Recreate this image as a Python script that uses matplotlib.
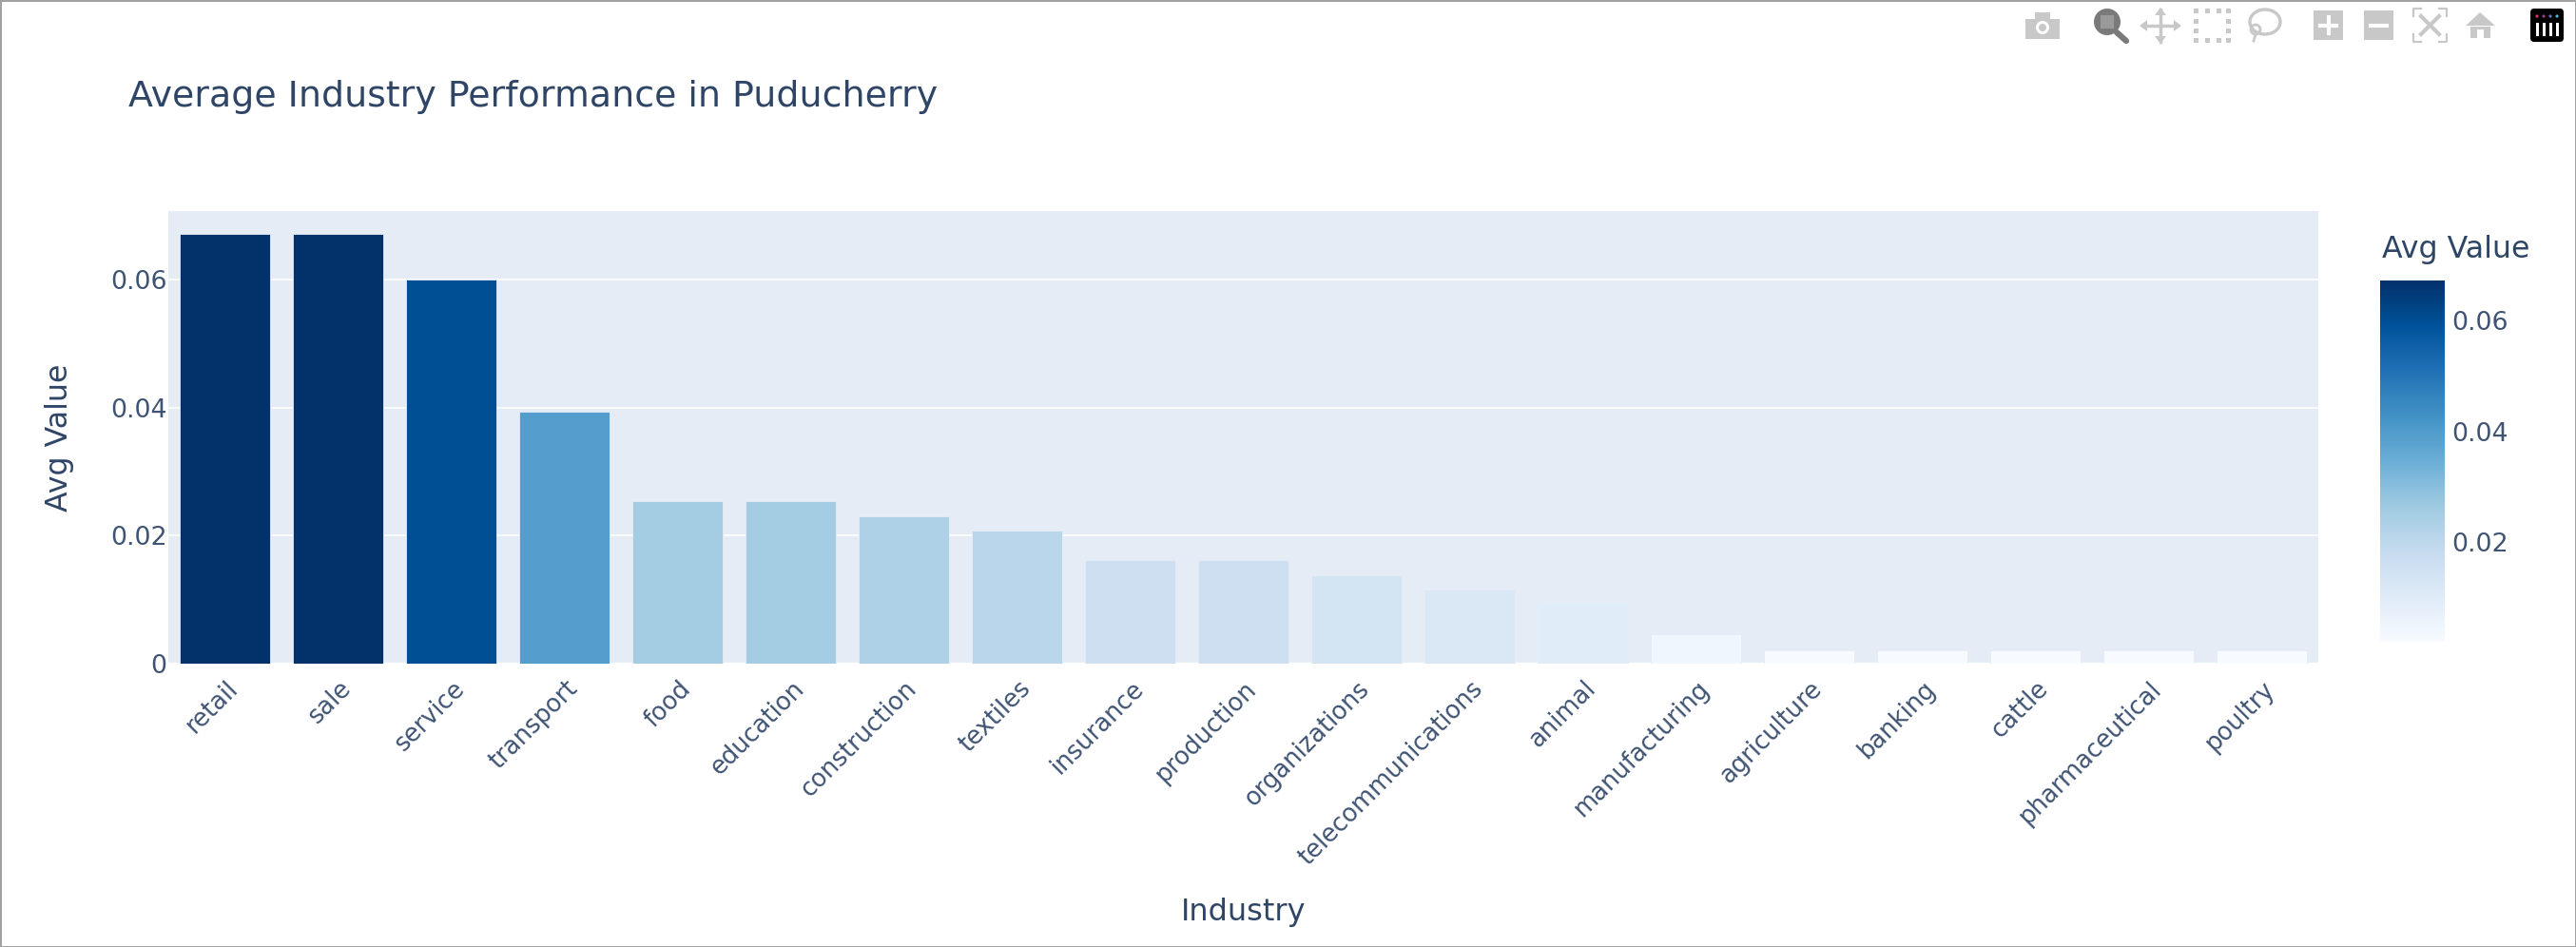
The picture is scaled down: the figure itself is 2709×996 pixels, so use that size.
import matplotlib
matplotlib.use("Agg")
import matplotlib.pyplot as plt
from matplotlib.colors import LinearSegmentedColormap, Normalize
from matplotlib.cm import ScalarMappable
from matplotlib.patches import Rectangle, Circle, FancyBboxPatch, Polygon, Ellipse
from matplotlib.transforms import ScaledTranslation

industries = ["retail", "sale", "service", "transport", "food", "education", "construction",
              "textiles", "insurance", "production", "organizations", "telecommunications",
              "animal", "manufacturing", "agriculture", "banking", "cattle", "pharmaceutical", "poultry"]
avg_values = [0.0672, 0.0672, 0.0600, 0.0394, 0.0254, 0.0253, 0.0230, 0.0207, 0.0161, 0.0161,
              0.0138, 0.0115, 0.0096, 0.0045, 0.0020, 0.0020, 0.0020, 0.0020, 0.0020]
y_ticks = [0, 0.02, 0.04, 0.06]
y_labels = ["0", "0.02", "0.04", "0.06"]
cbar_ticks = [0.02, 0.04, 0.06]
blues = ["#f7fbff", "#deebf7", "#c6dbef", "#9ecae1", "#6baed6", "#4292c6", "#2171b5", "#00529a", "#03316a"]

W, H = 2709, 996
TXT = "#2f4566"
TICK = "#3f5373"
BG = "#E5ECF6"
plt.rcParams["font.family"] = ["DejaVu Sans"]

def rect(x0, y0, x1, y1):
    return [x0 / W, 1 - y1 / H, (x1 - x0) / W, (y1 - y0) / H]

fig = plt.figure(figsize=(W / 100, H / 100), dpi=100, facecolor="white")
ax = fig.add_axes(rect(177, 222, 2438, 697.5))
ax.set_facecolor(BG)
cmap = LinearSegmentedColormap.from_list("plotly_blues", blues)
norm = Normalize(vmin=0.002, vmax=0.0672)

ax.bar(range(len(industries)), avg_values, width=0.8, color=[cmap(norm(v)) for v in avg_values],
       edgecolor=BG, linewidth=0.6, zorder=3)
ax.set_xlim(-0.5, len(industries) - 0.5)
ax.set_ylim(0, 0.07076)
for s in ax.spines.values():
    s.set_visible(False)
ax.set_axisbelow(True)
ax.grid(axis="y", color="white", linewidth=1.2, zorder=1)
ax.axhline(0, color="white", linewidth=2.4, zorder=2)
ax.set_yticks(y_ticks)
ax.set_yticklabels(y_labels, fontsize=19.4, color=TICK)
ax.tick_params(axis="y", length=0, pad=1)
ax.set_xticks(range(len(industries)))
ax.set_xticklabels(industries, fontsize=18.5, color=TICK, rotation=45, ha="right",
                   va="top", rotation_mode="anchor")
ax.tick_params(axis="x", length=0, pad=10)
off = ScaledTranslation(1 / 100, 0 / 100, fig.dpi_scale_trans)
for t in ax.get_xticklabels():
    t.set_transform(t.get_transform() + off)

fig.text(135 / W, 1 - 112 / H, "Average Industry Performance in Puducherry", fontsize=27.3,
         color=TXT, ha="left", va="baseline")
fig.text(62 / W, 1 - 460 / H, "Avg Value", fontsize=22.8, color=TXT, rotation=90, ha="center", va="center")
fig.text(1308 / W, 1 - 959 / H, "Industry", fontsize=23, color=TXT, ha="center", va="center")

cax = fig.add_axes(rect(2503, 295, 2571, 675))
cb = fig.colorbar(ScalarMappable(norm=norm, cmap=cmap), cax=cax, ticks=cbar_ticks)
cb.outline.set_visible(False)
cb.ax.tick_params(length=0, pad=5, labelsize=19.4, labelcolor=TICK)
cb.ax.set_yticklabels(["0.02", "0.04", "0.06"])
fig.text(2505 / W, 1 - 262 / H, "Avg Value", fontsize=22.8, color=TXT, ha="left", va="center")

# chrome: modebar icons and frame, in pixel coordinates
ov = fig.add_axes([0, 0, 1, 1], zorder=10)
ov.set_xlim(0, W); ov.set_ylim(H, 0); ov.axis("off"); ov.patch.set_alpha(0)
G = "#c8c8c8"; D = "#7a7a7a"
ov.add_patch(Rectangle((0.5, 0.5), W - 1, H - 1, fill=False, edgecolor="#a0a0a0", linewidth=1.4))
# camera
ov.add_patch(Rectangle((2130, 20), 36, 21, color=G, lw=0))
ov.add_patch(Rectangle((2140, 13), 16, 8, color=G, lw=0))
ov.add_patch(Circle((2148, 29), 7, color="white", lw=0))
ov.add_patch(Circle((2148, 29), 4, color=G, lw=0))
# zoom
ov.plot([2226, 2236], [34, 43], color=D, lw=4.5, solid_capstyle="round")
ov.add_patch(Circle((2216, 23), 14, color=D, lw=0))
ov.add_patch(Rectangle((2209, 16), 14, 14, color="#9a9a9a", lw=0))
# pan
ov.plot([2255, 2289], [27, 27], color=G, lw=2.5)
ov.plot([2272, 2272], [10, 44], color=G, lw=2.5)
for p in ([(2250, 27), (2258, 21), (2258, 33)], [(2294, 27), (2286, 21), (2286, 33)],
          [(2272, 8), (2266, 16), (2278, 16)], [(2272, 46), (2266, 38), (2278, 38)]):
    ov.add_patch(Polygon(p, color=G, lw=0))
# box select
for x in (2307, 2319, 2331, 2341):
    for y in (9, 40):
        ov.add_patch(Rectangle((x, y), 5, 5, color=G, lw=0))
for y in (20, 30):
    for x in (2307, 2341):
        ov.add_patch(Rectangle((x, y), 5, 5, color=G, lw=0))
# lasso
ov.add_patch(Ellipse((2382, 23), 32, 26, fill=False, edgecolor=G, lw=2.4))
ov.add_patch(Circle((2372, 31), 5, fill=False, edgecolor=G, lw=2))
ov.plot([2372, 2370], [36, 43], color=G, lw=2)
# plus / minus
for x0 in (2433, 2486):
    ov.add_patch(Rectangle((x0, 11), 31, 31, color=G, lw=0))
ov.plot([2440, 2457], [27, 27], color="white", lw=3)
ov.plot([2448.5, 2448.5], [18, 35], color="white", lw=3)
ov.plot([2493, 2510], [27, 27], color="white", lw=3)
# autoscale
for xs, ys in (([2538, 2538, 2546], [17, 9, 9]), ([2565, 2573, 2573], [9, 9, 17]),
               ([2538, 2538, 2546], [36, 44, 44]), ([2565, 2573, 2573], [44, 44, 36])):
    ov.plot(xs, ys, color=G, lw=1.6)
ov.plot([2546, 2565], [17, 36], color=G, lw=3)
ov.plot([2546, 2565], [36, 17], color=G, lw=3)
# home
ov.add_patch(Polygon([(2593, 27), (2608, 13), (2624, 27)], color=G, lw=0))
ov.add_patch(Rectangle((2598, 28), 21, 12, color=G, lw=0))
ov.add_patch(Rectangle((2605, 31), 7, 9, color="white", lw=0))
# logo
ov.add_patch(FancyBboxPatch((2663, 11), 31, 31, boxstyle="round,pad=2,rounding_size=4", color="black", lw=0))
for x, c in zip((2668, 2675, 2682, 2689), ("#e0346e", "#a23a8c", "#6f6fc0", "#4fb5d8")):
    ov.add_patch(Circle((x, 17), 1.6, color=c, lw=0))
    ov.add_patch(Rectangle((x - 1.5, 24), 3, 14, color="white", lw=0))

fig.savefig("out.png", dpi=100)
